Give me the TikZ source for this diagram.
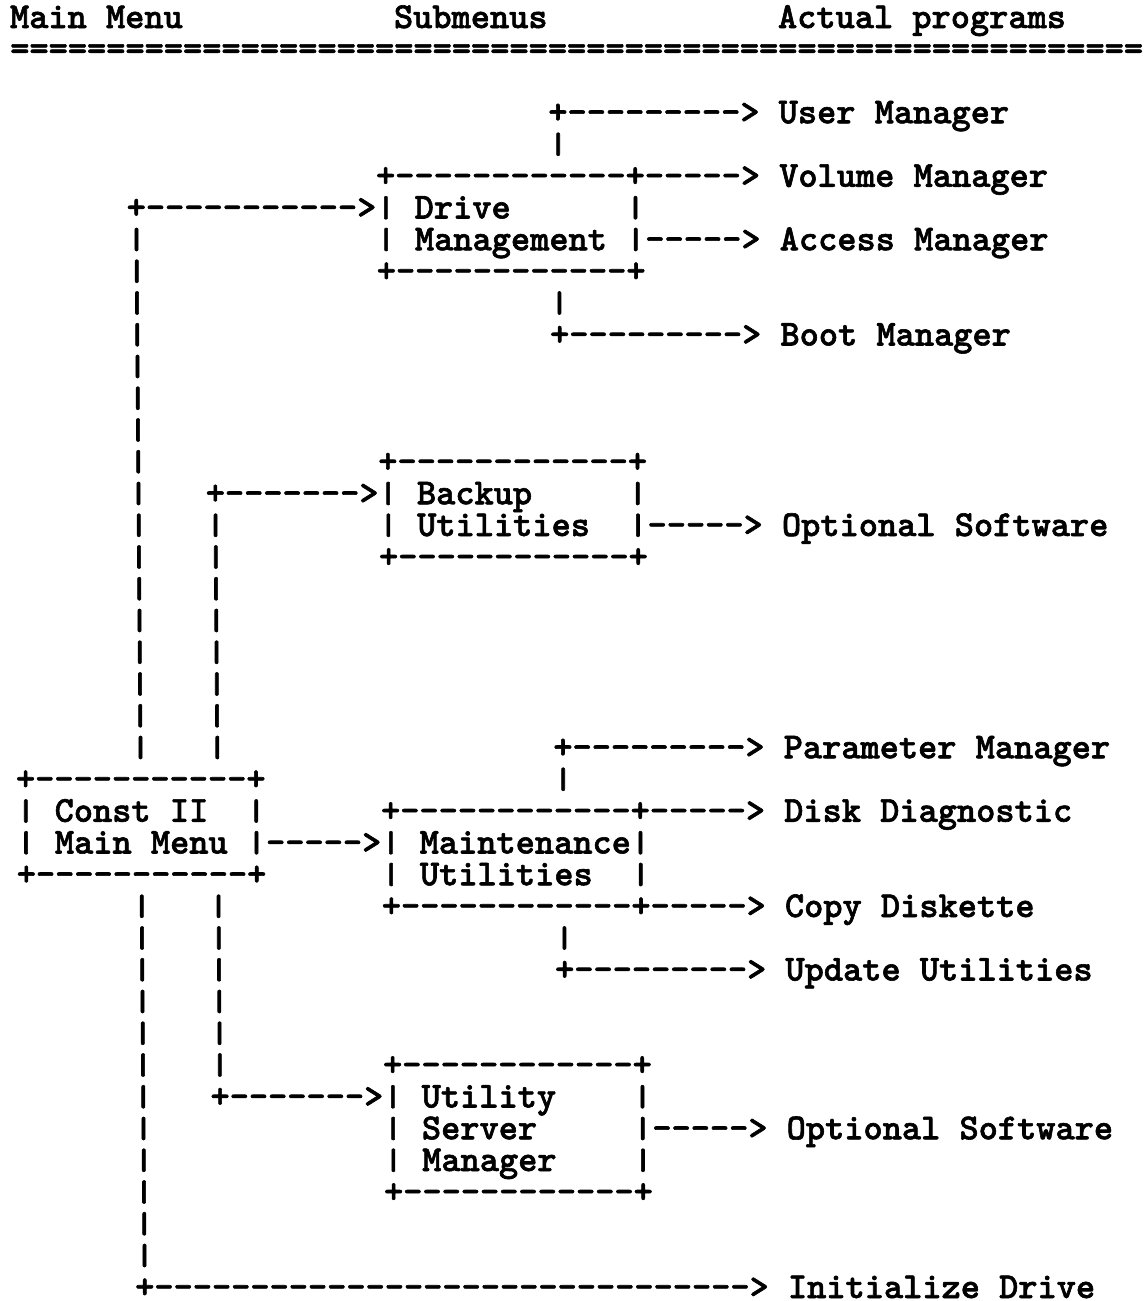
\documentclass[tikz,border=0pt]{standalone}
\usepackage{fontspec}
\usepackage{graphicx}
\newfontfamily\lmbold{lmmonolt10-bold.otf}[Ligatures=ResetAll,FakeBold=1.6]
\newdimen\mycw
\mycw=9.6pt
\newcommand\monof{\fontsize{18.2857pt}{20pt}\selectfont\lmbold}
\ExplSyntaxOn
\NewDocumentCommand\dsh{m}{\prg_replicate:nn{#1}{-\kern0pt}}
\NewDocumentCommand\eqs{m}{\prg_replicate:nn{#1}{=}}
\ExplSyntaxOff
\newcommand\spc[1]{\kern#1\mycw}
\newcommand\vb{\raisebox{0.8pt}{\scalebox{1}[0.82]{|}}}
\newcommand\arow[2]{\node[txt] (r#1) at ({10+0.25*#1},{28+31.75*#1}) {#2};}
\begin{document}
\begin{tikzpicture}[x=0.5pt,y=-0.5pt,
  txt/.style={anchor=base west, inner sep=0pt, outer sep=0pt, font=\monof,
    text=black, text height=11pt, text depth=1pt}]
\fill[white] (0,0) rectangle (1144,1301);
\useasboundingbox (0,0) rectangle (1144,1301);
\arow{0}{Main Menu\spc{11}Submenus\spc{12}Actual programs}
\arow{1}{\eqs{59}}
\arow{3}{\spc{28}+\dsh{9}> User Manager}
\arow{4}{\spc{28}\vb}
\arow{5}{\spc{19}+\dsh{12}+\dsh{5}> Volume Manager}
\arow{6}{\spc{6}+\dsh{11}>\vb{} Drive\spc{6}\vb}
\arow{7}{\spc{6}\vb\spc{12}\vb{} Management \vb\dsh{5}> Access Manager}
\arow{8}{\spc{6}\vb\spc{12}+\dsh{12}+}
\arow{9}{\spc{6}\vb\spc{21}\vb}
\arow{10}{\spc{6}\vb\spc{21}+\dsh{9}> Boot Manager}
\arow{11}{\spc{6}\vb}
\arow{12}{\spc{6}\vb}
\arow{13}{\spc{6}\vb}
\arow{14}{\spc{6}\vb\spc{12}+\dsh{12}+}
\arow{15}{\spc{6}\vb\spc{3}+\dsh{7}>\vb{} Backup\spc{5}\vb}
\arow{16}{\spc{6}\vb\spc{3}\vb\spc{8}\vb{} Utilities\spc{2}\vb\dsh{5}> Optional Software}
\arow{17}{\spc{6}\vb\spc{3}\vb\spc{8}+\dsh{12}+}
\arow{18}{\spc{6}\vb\spc{3}\vb}
\arow{19}{\spc{6}\vb\spc{3}\vb}
\arow{20}{\spc{6}\vb\spc{3}\vb}
\arow{21}{\spc{6}\vb\spc{3}\vb}
\arow{22}{\spc{6}\vb\spc{3}\vb}
\arow{23}{\spc{6}\vb\spc{3}\vb\spc{17}+\dsh{9}> Parameter Manager}
\arow{24}{+\dsh{11}+\spc{15}\vb}
\arow{25}{\vb{} Const II\spc{2}\vb\spc{6}+\dsh{12}+\dsh{5}> Disk Diagnostic}
\arow{26}{\vb{} Main Menu \vb\dsh{5}>\vb{} Maintenance\vb}
\arow{27}{+\dsh{11}+\spc{6}\vb{} Utilities\spc{2}\vb}
\arow{28}{\spc{6}\vb\spc{3}\vb\spc{8}+\dsh{12}+\dsh{5}> Copy Diskette}
\arow{29}{\spc{6}\vb\spc{3}\vb\spc{17}\vb}
\arow{30}{\spc{6}\vb\spc{3}\vb\spc{17}+\dsh{9}> Update Utilities}
\arow{31}{\spc{6}\vb\spc{3}\vb}
\arow{32}{\spc{6}\vb\spc{3}\vb}
\arow{33}{\spc{6}\vb\spc{3}\vb\spc{8}+\dsh{12}+}
\arow{34}{\spc{6}\vb\spc{3}+\dsh{7}>\vb{} Utility\spc{4}\vb}
\arow{35}{\spc{6}\vb\spc{12}\vb{} Server\spc{5}\vb\dsh{5}> Optional Software}
\arow{36}{\spc{6}\vb\spc{12}\vb{} Manager\spc{4}\vb}
\arow{37}{\spc{6}\vb\spc{12}+\dsh{12}+}
\arow{38}{\spc{6}\vb}
\arow{39}{\spc{6}\vb}
\arow{40}{\spc{6}+\dsh{31}> Initialize Drive}
\end{tikzpicture}
\end{document}
